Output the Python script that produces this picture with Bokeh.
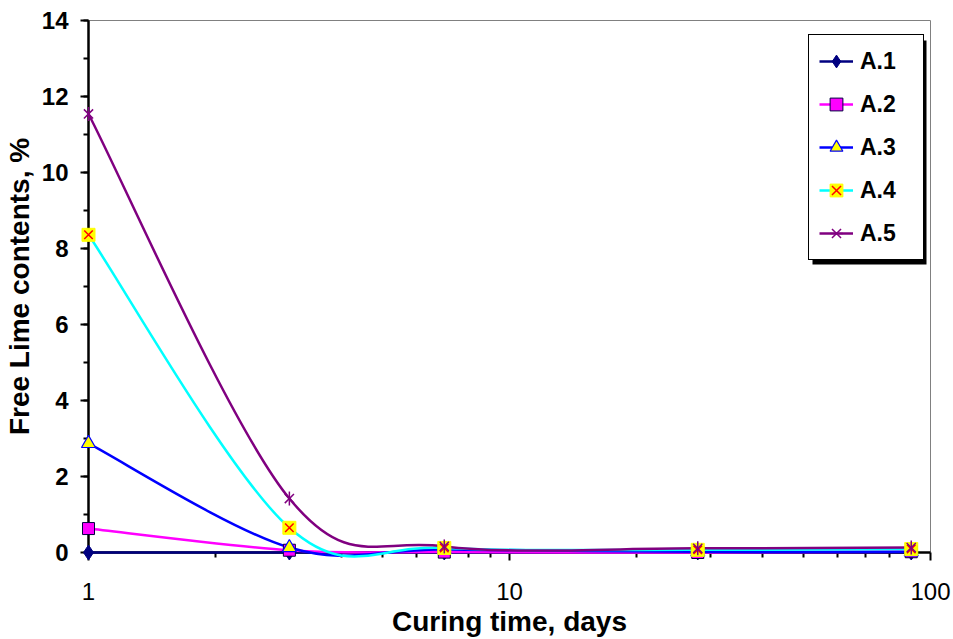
import math
from bokeh.plotting import figure
from bokeh.models import (Range1d, FixedTicker, SingleIntervalTicker, PrintfTickFormatter,
                          Legend, LegendItem, BoxAnnotation)
from bokeh.embed import file_html
from bokeh.resources import INLINE

# ---- data ----
days = [1, 3, 7, 28, 90]
a1 = [0.0, 0.0, 0.0, 0.0, 0.0]
a2 = [0.63, 0.06, 0.01, 0.0, 0.02]
a3 = [2.87, 0.13, 0.08, 0.02, 0.02]
a4 = [8.36, 0.65, 0.12, 0.07, 0.09]
a5 = [11.54, 1.42, 0.16, 0.11, 0.13]
series_names = ["A.1", "A.2", "A.3", "A.4", "A.5"]
x_ticks = [1, 10, 100]
x_minor = [2, 3, 4, 5, 6, 7, 8, 9, 20, 30, 40, 50, 60, 70, 80, 90]

FONT = "Liberation Sans"


def smooth(xs, ys):
    """Excel-like smoothed line: Catmull-Rom Bezier segments in (log x, y) space."""
    pts = [(math.log10(x), y) for x, y in zip(xs, ys)]
    n = len(pts)
    out = dict(x0=[], y0=[], x1=[], y1=[], cx0=[], cy0=[], cx1=[], cy1=[])
    for i in range(n - 1):
        p0 = pts[i - 1] if i > 0 else pts[i]
        p1 = pts[i]
        p2 = pts[i + 1]
        p3 = pts[i + 2] if i + 2 < n else pts[i + 1]
        c1 = (p1[0] + (p2[0] - p0[0]) / 6, p1[1] + (p2[1] - p0[1]) / 6)
        c2 = (p2[0] - (p3[0] - p1[0]) / 6, p2[1] - (p3[1] - p1[1]) / 6)
        out["x0"].append(10 ** p1[0]); out["y0"].append(p1[1])
        out["x1"].append(10 ** p2[0]); out["y1"].append(p2[1])
        out["cx0"].append(10 ** c1[0]); out["cy0"].append(c1[1])
        out["cx1"].append(10 ** c2[0]); out["cy1"].append(c2[1])
    return out


p = figure(width=953, height=639, x_axis_type="log",
           x_range=Range1d(1, 100), y_range=Range1d(0, 14),
           output_backend="svg", toolbar_location=None,
           min_border_left=88, min_border_right=23, min_border_top=20, min_border_bottom=87)
p.xgrid.visible = False
p.ygrid.visible = False
p.outline_line_color = "#808080"
p.outline_line_width = 1
p.background_fill_color = "white"
p.border_fill_color = "white"

# x axis
xa = p.xaxis[0]
xa.ticker = FixedTicker(ticks=x_ticks, minor_ticks=x_minor)
xa.formatter = PrintfTickFormatter(format="%d")
xa.axis_label = "Curing time, days"
xa.axis_label_text_font = FONT
xa.axis_label_text_font_style = "bold"
xa.axis_label_text_font_size = "28px"
xa.axis_label_standoff = 3
xa.major_label_text_font = FONT
xa.major_label_text_font_size = "24px"
xa.major_label_standoff = 22
xa.major_label_text_color = "black"

# y axis
ya = p.yaxis[0]
ya.ticker = SingleIntervalTicker(interval=2, num_minor_ticks=2)
ya.axis_label = "Free Lime contents, %"
ya.axis_label_text_font = FONT
ya.axis_label_text_font_style = "bold"
ya.axis_label_text_font_size = "28px"
ya.axis_label_standoff = 4
ya.major_label_text_font = FONT
ya.major_label_text_font_style = "bold"
ya.major_label_text_font_size = "24px"
ya.major_label_standoff = 12
ya.major_label_text_color = "black"

for ax in (xa, ya):
    ax.axis_line_color = "black"
    ax.axis_line_width = 2.5
    ax.major_tick_line_color = "black"
    ax.minor_tick_line_color = "black"
    ax.major_tick_line_width = 2
    ax.minor_tick_line_width = 2
    ax.major_tick_in = 0
    ax.major_tick_out = 8
    ax.minor_tick_in = 0
    ax.minor_tick_out = 5
    ax.axis_label_text_color = "black"

line_colors = ["#000080", "#FF00FF", "#0000FF", "#00FFFF", "#800080"]
all_y = [a1, a2, a3, a4, a5]

curves = []
for ys, col in zip(all_y, line_colors):
    curves.append(p.bezier(source=smooth(days, ys), x0="x0", y0="y0", x1="x1", y1="y1",
                           cx0="cx0", cy0="cy0", cx1="cx1", cy1="cy1",
                           line_color=col, line_width=2.5, level="overlay"))

marks = []
marks.append([p.scatter(days, a1, marker="diamond", size=15, level="overlay",
                        fill_color="#000080", line_color="#000080")])
marks.append([p.scatter(days, a2, marker="square", size=12, level="overlay",
                        fill_color="#FF00FF", line_color="#000040", line_width=1)])
marks.append([p.scatter(days, a3, marker="triangle", size=14, level="overlay",
                        fill_color="#FFFF00", line_color="#0000FF", line_width=1.2)])
marks.append([p.scatter(days, a4, marker="square", size=13, level="overlay",
                        fill_color="#FFFF00", line_color="#FFFF00", line_width=1),
              p.scatter(days, a4, marker="x", size=12, level="overlay",
                        line_color="#FF0000", line_width=1.5)])
marks.append([p.scatter(days, a5, marker="x", size=13, level="overlay",
                        line_color="#800080", line_width=1.5),
              p.scatter(days, a5, marker="dash", size=14, angle=math.pi / 2, level="overlay",
                        line_color="#800080", line_width=1.5)])

# legend with shadow
pad, gw, gh, std, lw, sp = 10, 34, 32, 7, 53, 11
leg_x, leg_y = 720, 292
leg_w = 2 * pad + gw + std + lw
leg_h = 2 * pad + 5 * gh + 4 * sp
shadow = BoxAnnotation(left=leg_x + 4, right=leg_x + leg_w + 4,
                       bottom=leg_y - 4, top=leg_y + leg_h - 4,
                       left_units="screen", right_units="screen",
                       bottom_units="screen", top_units="screen",
                       fill_color="black", fill_alpha=1, line_color=None)
p.add_layout(shadow)

items = [LegendItem(label=nm, renderers=[c] + m) for nm, c, m in zip(series_names, curves, marks)]
legend = Legend(items=items, location=(leg_x, leg_y), orientation="vertical",
                label_text_font=FONT, label_text_font_style="bold",
                label_text_font_size="23px", label_text_color="black",
                glyph_width=gw, glyph_height=gh, label_height=gh, label_width=lw,
                label_standoff=std, padding=pad, spacing=sp, margin=0,
                border_line_color="black", border_line_width=1, border_line_alpha=1,
                background_fill_color="white", background_fill_alpha=1)
p.add_layout(legend)

open("out.html", "w").write(file_html(p, INLINE))
